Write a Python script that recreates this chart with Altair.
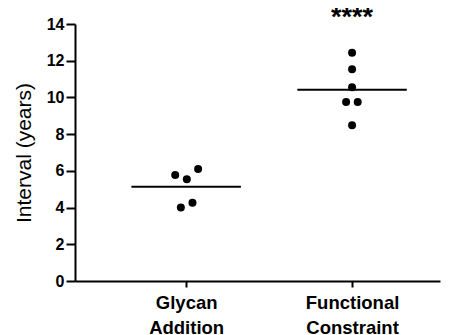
import altair as alt
import pandas as pd

categories = ["Glycan\nAddition", "Functional\nConstraint"]
glycan_values = [5.77, 5.54, 6.10, 4.01, 4.26]
glycan_jitter = [-0.066, 0.004, 0.072, -0.032, 0.038]
functional_values = [12.43, 11.53, 10.55, 9.75, 9.75, 8.48]
functional_jitter = [0.0, 0.0, 0.0, -0.036, 0.034, 0.0]
significance = "****"
y_ticks = [0, 2, 4, 6, 8, 10, 12, 14]

rows = []
for i, (vals, jit) in enumerate([(glycan_values, glycan_jitter), (functional_values, functional_jitter)]):
    for v, j in zip(vals, jit):
        rows.append({"group": i + 1, "xpos": i + 1 + j, "value": v})
df = pd.DataFrame(rows)

FONT = "Liberation Sans"

label_expr = "datum.value == 1 ? " + str(categories[0].split("\n")) + " : " + str(categories[1].split("\n"))

xscale = alt.Scale(domain=[0.33, 2.53], nice=False, zero=False)
yscale = alt.Scale(domain=[0, 14], nice=False)

x_axis = alt.Axis(
    values=[1, 2], labelExpr=label_expr, title=None, grid=False,
    domainColor="black", domainWidth=2, tickColor="black", tickWidth=2, tickSize=6,
    labelFont=FONT, labelFontSize=18.5, labelFontWeight="bold", labelColor="black",
    labelPadding=6, labelLineHeight=25, labelFlush=False, labelOverlap=False,
)
y_axis = alt.Axis(
    values=y_ticks, title="Interval (years)", grid=False,
    domainColor="black", domainWidth=2, tickColor="black", tickWidth=2, tickSize=9,
    labelFont=FONT, labelFontSize=16, labelFontWeight="bold", labelColor="black",
    labelPadding=2, labelOverlap=False,
    titleFont=FONT, titleFontSize=21, titleFontWeight="normal",
    titleColor="black", titlePadding=12,
)

base = alt.Chart(df)

points = base.mark_circle(size=64, color="black", opacity=1).encode(
    x=alt.X("xpos:Q", scale=xscale, axis=x_axis),
    y=alt.Y("value:Q", scale=yscale, axis=y_axis),
)

means = base.transform_aggregate(
    mean_value="mean(value)", groupby=["group"]
).transform_calculate(
    x_lo="datum.group - 0.33", x_hi="datum.group + 0.33"
).mark_rule(color="black", strokeWidth=2).encode(
    x=alt.X("x_lo:Q", scale=xscale, axis=x_axis),
    x2="x_hi:Q",
    y=alt.Y("mean_value:Q", scale=yscale, axis=y_axis),
)

stars = alt.Chart(pd.DataFrame({"group": [2], "label": [significance], "value": [14.0]})).mark_text(
    font=FONT, fontSize=27, fontWeight="bold", color="black", baseline="alphabetic", dy=1.5
).encode(
    x=alt.X("group:Q", scale=xscale, axis=x_axis),
    y=alt.Y("value:Q", scale=yscale, axis=y_axis),
    text="label:N",
)

chart = alt.layer(points, means, stars).properties(
    width=365, height=257,
    autosize=alt.AutoSizeParams(type="none"),
    padding={"left": 67, "top": 16, "right": 5, "bottom": 54},
    background="white",
).configure_view(stroke=None)

chart.save("out.html", embed_options={"renderer": "svg", "actions": False})
